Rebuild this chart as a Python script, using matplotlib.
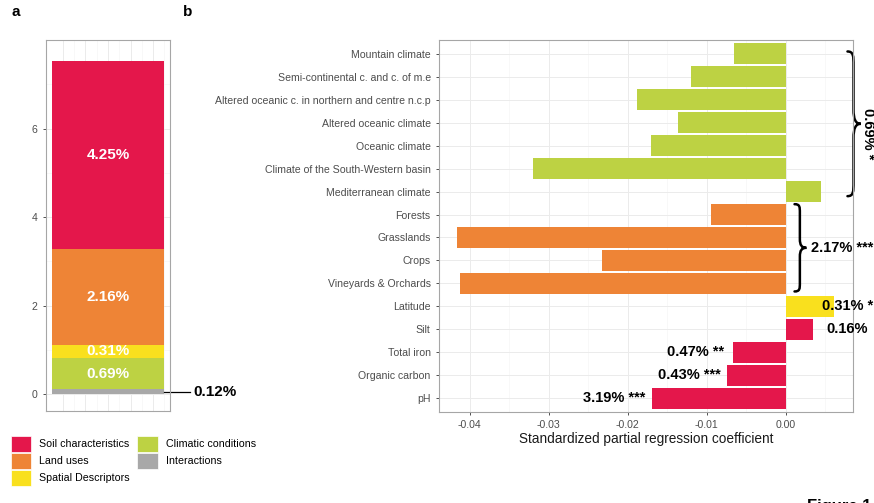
import numpy as np
import matplotlib.pyplot as plt
from matplotlib.patches import Patch, PathPatch
from matplotlib.path import Path

plt.rcParams['font.family'] = ['Liberation Sans', 'DejaVu Sans']

# colours of the predictor groups
colors = {'Soil characteristics': '#E4174B', 'Land uses': '#EE8436', 'Spatial Descriptors': '#F9E01E',
          'Climatic conditions': '#BDD243', 'Interactions': '#A8A8A8'}
legend_order = ['Soil characteristics', 'Land uses', 'Spatial Descriptors', 'Climatic conditions', 'Interactions']

# panel a: explained variance per group (%), stacked from the bottom
stack_groups = ['Interactions', 'Climatic conditions', 'Spatial Descriptors', 'Land uses', 'Soil characteristics']
stack_shares = [0.12, 0.69, 0.31, 2.16, 4.25]

# panel b: standardized partial regression coefficients, top to bottom
variables = ['Mountain climate', 'Semi-continental c. and c. of m.e', 'Altered oceanic c. in northern and centre n.c.p',
             'Altered oceanic climate', 'Oceanic climate', 'Climate of the South-Western basin', 'Mediterranean climate',
             'Forests', 'Grasslands', 'Crops', 'Vineyards & Orchards', 'Latitude', 'Silt', 'Total iron',
             'Organic carbon', 'pH']
coefs = [-0.0066, -0.0120, -0.0189, -0.0137, -0.0171, -0.0320, 0.0044,
         -0.0095, -0.0416, -0.0233, -0.0413, 0.0061, 0.0035, -0.0067, -0.0075, -0.0170]
var_groups = ['Climatic conditions'] * 7 + ['Land uses'] * 4 + ['Spatial Descriptors'] + ['Soil characteristics'] * 4
var_notes = {'Latitude': '0.31% *', 'Silt': '0.16%', 'Total iron': '0.47% **',
             'Organic carbon': '0.43% ***', 'pH': '3.19% ***'}
block_notes = {'Climatic conditions': '0.69% *', 'Land uses': '2.17% ***'}

grid_major = '#EBEBEB'; grid_minor = '#F5F5F5'; border = '#A6A6A6'; tick_col = '#4D4D4D'
tick_size = 7.6


def style_axes(ax):
    for s in ax.spines.values():
        s.set_color(border); s.set_linewidth(0.8)
    ax.tick_params(colors='#333333', labelcolor=tick_col, labelsize=tick_size, length=2.5, width=0.6)
    ax.set_axisbelow(True)


def brace(ax, x, y0, y1, w, lw=1.8):
    # curly brace opening to the left, tip pointing right
    nodes = [(0, 0), (0.45, 0), (0.45, 0.03), (0.45, 0.1), (0.45, 0.4),
             (0.45, 0.47), (0.6, 0.5), (1, 0.5), (0.6, 0.5), (0.45, 0.53), (0.45, 0.6),
             (0.45, 0.9), (0.45, 0.97), (0.45, 1), (0, 1)]
    codes = [Path.MOVETO] + [Path.CURVE4] * 3 + [Path.LINETO] + [Path.CURVE4] * 6 + [Path.LINETO] + [Path.CURVE4] * 3
    verts = [(x + nx * w, y0 + ny * (y1 - y0)) for nx, ny in nodes]
    ax.add_patch(PathPatch(Path(verts, codes), fc='none', ec='black', lw=lw, clip_on=False, capstyle='round'))


fig = plt.figure(figsize=(8.74, 5.03), dpi=100)

# ---- panel a
axa = fig.add_axes([46 / 874, 1 - 411 / 503, 124 / 874, 371 / 503])
style_axes(axa)
bottom = 0
for g, v in zip(stack_groups, stack_shares):
    axa.bar(0, v, width=1.0, bottom=bottom, color=colors[g], lw=0)
    mid = bottom + v / 2
    if v > 0.2:
        axa.text(0, mid, '%.2f%%' % v, color='white', fontsize=11, fontweight='bold', ha='center', va='center')
    else:
        axa.plot([0.5, 0.73], [mid, mid], color='black', lw=0.9, clip_on=False)
        axa.text(0.76, mid, '%.2f%%' % v, fontsize=11, fontweight='bold', ha='left', va='center')
    bottom += v
axa.set_xlim(-0.55, 0.55); axa.set_ylim(-0.38, 8.0)
axa.set_yticks([0, 2, 4, 6]); axa.set_yticks([1, 3, 5, 7], minor=True)
axa.set_xticks(np.arange(-0.4, 0.51, 0.2)); axa.set_xticks(np.arange(-0.3, 0.51, 0.2), minor=True)
axa.tick_params(axis='x', which='both', length=0, labelbottom=False)
axa.tick_params(axis='y', which='minor', length=0)
axa.grid(True, which='major', color=grid_major, lw=0.7)
axa.grid(True, which='minor', color=grid_minor, lw=0.5)

# ---- panel b
axb = fig.add_axes([439 / 874, 1 - 412 / 503, 414 / 874, 372 / 503])
style_axes(axb)
rows = np.arange(len(variables))
axb.barh(rows, coefs, height=0.9, color=[colors[g] for g in var_groups], lw=0)
axb.set_ylim(len(variables) - 0.4, -0.6)
axb.set_xlim(-0.0439, 0.0085)
axb.set_yticks(rows); axb.set_yticklabels(variables)
axb.set_xticks([-0.04, -0.03, -0.02, -0.01, 0.0])
axb.set_xticklabels(['-0.04', '-0.03', '-0.02', '-0.01', '0.00'])
axb.set_xticks([-0.035, -0.025, -0.015, -0.005, 0.005], minor=True)
axb.tick_params(axis='x', which='minor', length=0)
axb.grid(True, which='major', color=grid_major, lw=0.7)
axb.grid(True, which='minor', axis='x', color=grid_minor, lw=0.5)
axb.set_xlabel('Standardized partial regression coefficient', fontsize=9.8, color='#1A1A1A', labelpad=1)

for i, (v, c) in enumerate(zip(variables, coefs)):
    if v not in var_notes:
        continue
    x = c - 0.0047 if c < 0 else 0.0078
    axb.text(x, i, var_notes[v], fontsize=10.5, fontweight='bold', ha='center', va='center', clip_on=False)

# braces for the grouped predictors
for g, note in block_notes.items():
    idx = [i for i, vg in enumerate(var_groups) if vg == g]
    y0, y1 = idx[0] - 0.1, idx[-1] + 0.2
    if g == 'Climatic conditions':
        x = max(coefs[i] for i in idx) + 0.0034
        brace(axb, x, y0, y1, 0.0017)
        axb.text(x + 0.0026, (y0 + y1) / 2 + 0.45, note, fontsize=10.5, fontweight='bold', rotation=270,
                 ha='center', va='center', clip_on=False)
    else:
        y0, y1 = idx[0] - 0.45, idx[-1] + 0.35
        x = 0.0011
        brace(axb, x, y0, y1, 0.0015)
        axb.text(x + 0.0021, (y0 + y1) / 2, note, fontsize=10.5, fontweight='bold', ha='left', va='center',
                 clip_on=False)

# ---- legend
handles = [Patch(facecolor=colors[g], edgecolor='white', lw=0.5, label=g) for g in legend_order]
fig.legend(handles=handles, loc='upper left', bbox_to_anchor=(11 / 874, 1 - 436 / 503), ncol=2, frameon=False,
           fontsize=7.7, handlelength=1.9, handleheight=1.9, handletextpad=0.75, columnspacing=0.7,
           labelspacing=0.1, borderpad=0, borderaxespad=0)

fig.text(12 / 874, 1 - 12 / 503, 'a', fontsize=11, fontweight='bold', va='center')
fig.text(183 / 874, 1 - 12 / 503, 'b', fontsize=11, fontweight='bold', va='center')
fig.text(807 / 874, 1 - 499 / 503, 'Figure 1', fontsize=12, fontweight='bold', va='top')

fig.savefig('out.png', dpi=100)
